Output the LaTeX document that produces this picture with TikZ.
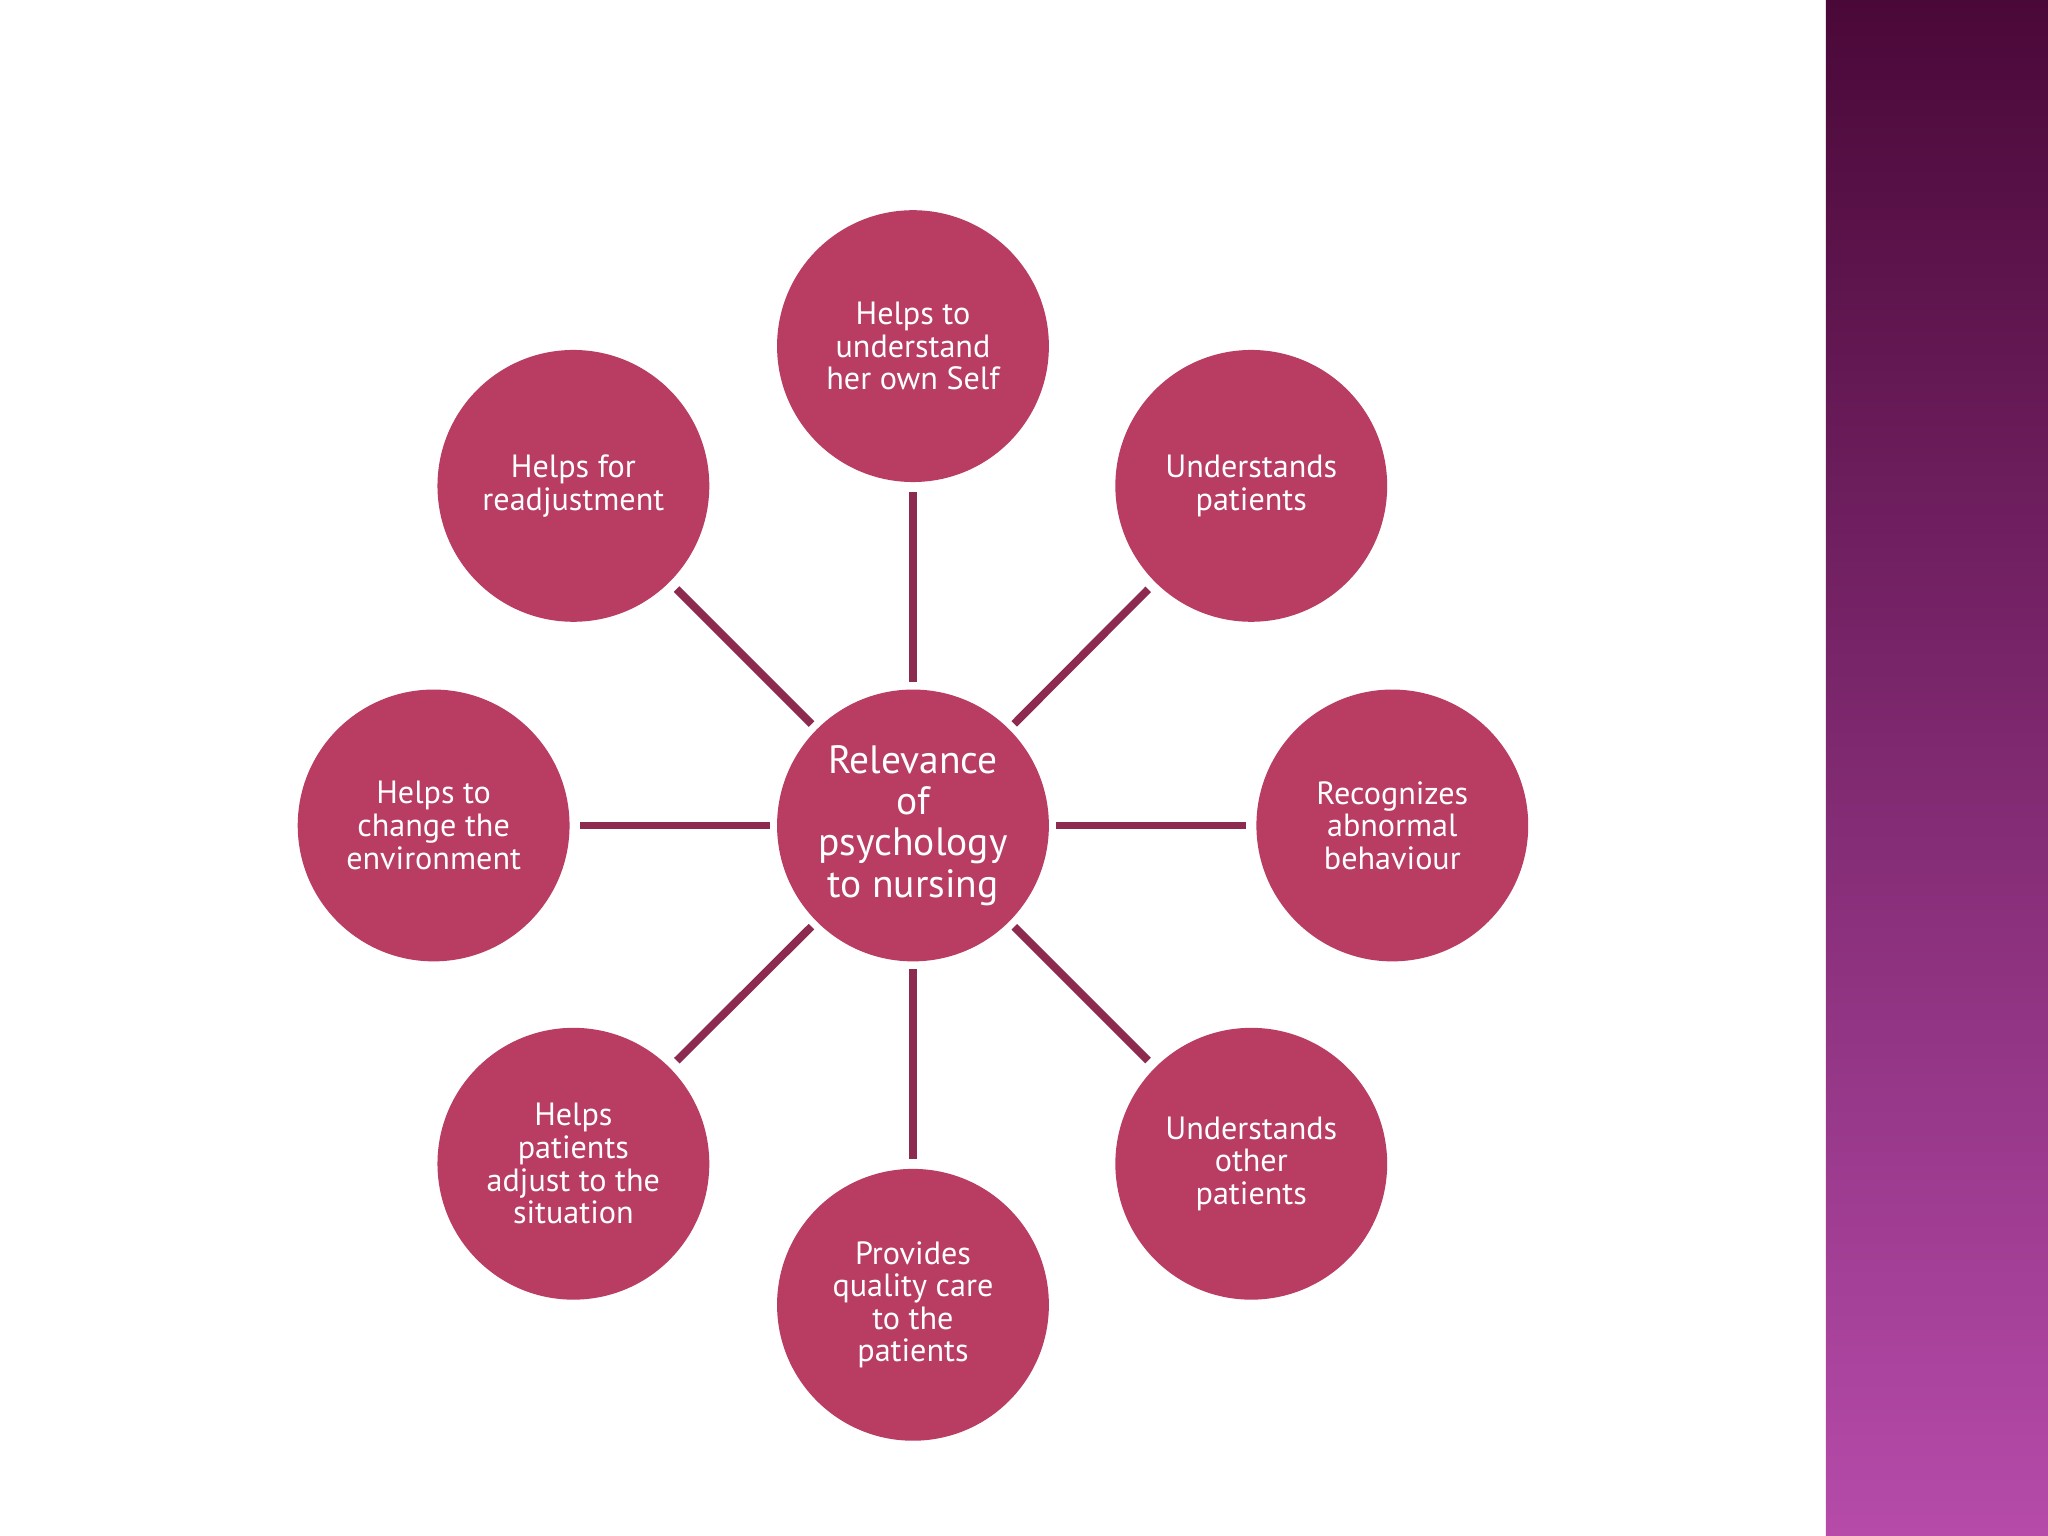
\documentclass[tikz,border=0pt]{standalone}
\usepackage{fontspec}
\setmainfont{PT Sans}
\begin{document}
\begin{tikzpicture}[x=0.01cm,y=-0.01cm,
  bub/.style={circle,fill=bubfill,minimum size=2.08cm,inner sep=0pt,text=white,align=center,font=\fontsize{7}{7.1}\selectfont},
  spoke/.style={draw=spokecol,line width=0.06cm,shorten <=0.05cm,shorten >=0.07cm}]
\definecolor{bubfill}{HTML}{B93C63}
\definecolor{spokecol}{HTML}{8C2A50}
\definecolor{bandtop}{HTML}{4A0838}
\definecolor{bandbot}{HTML}{B64BAA}
\fill[white] (0,0) rectangle (1568,1176);
\useasboundingbox (0,0) rectangle (1568,1176);
\shade[top color=bandtop,bottom color=bandbot] (1398,0) rectangle (1568,1176);
\node[bub,font=\fontsize{8.6}{9}\selectfont] (c) at (699,632) {Relevance\\of\\psychology\\to nursing};
\node[bub] (n1) at (699,265) {Helps to\\understand\\her own Self};
\node[bub] (n2) at (958,372) {Understands\\patients};
\node[bub] (n3) at (1066,632) {Recognizes\\abnormal\\behaviour};
\node[bub] (n4) at (958,891) {Understands\\other\\patients};
\node[bub] (n5) at (699,999) {Provides\\quality care\\to the\\patients};
\node[bub] (n6) at (439,891) {Helps\\patients\\adjust to the\\situation};
\node[bub] (n7) at (332,632) {Helps to\\change the\\environment};
\node[bub] (n8) at (439,372) {Helps for\\readjustment};
\foreach \n in {n1,n2,n3,n4,n5,n6,n7,n8} \draw[spoke] (c) -- (\n);
\end{tikzpicture}
\end{document}
